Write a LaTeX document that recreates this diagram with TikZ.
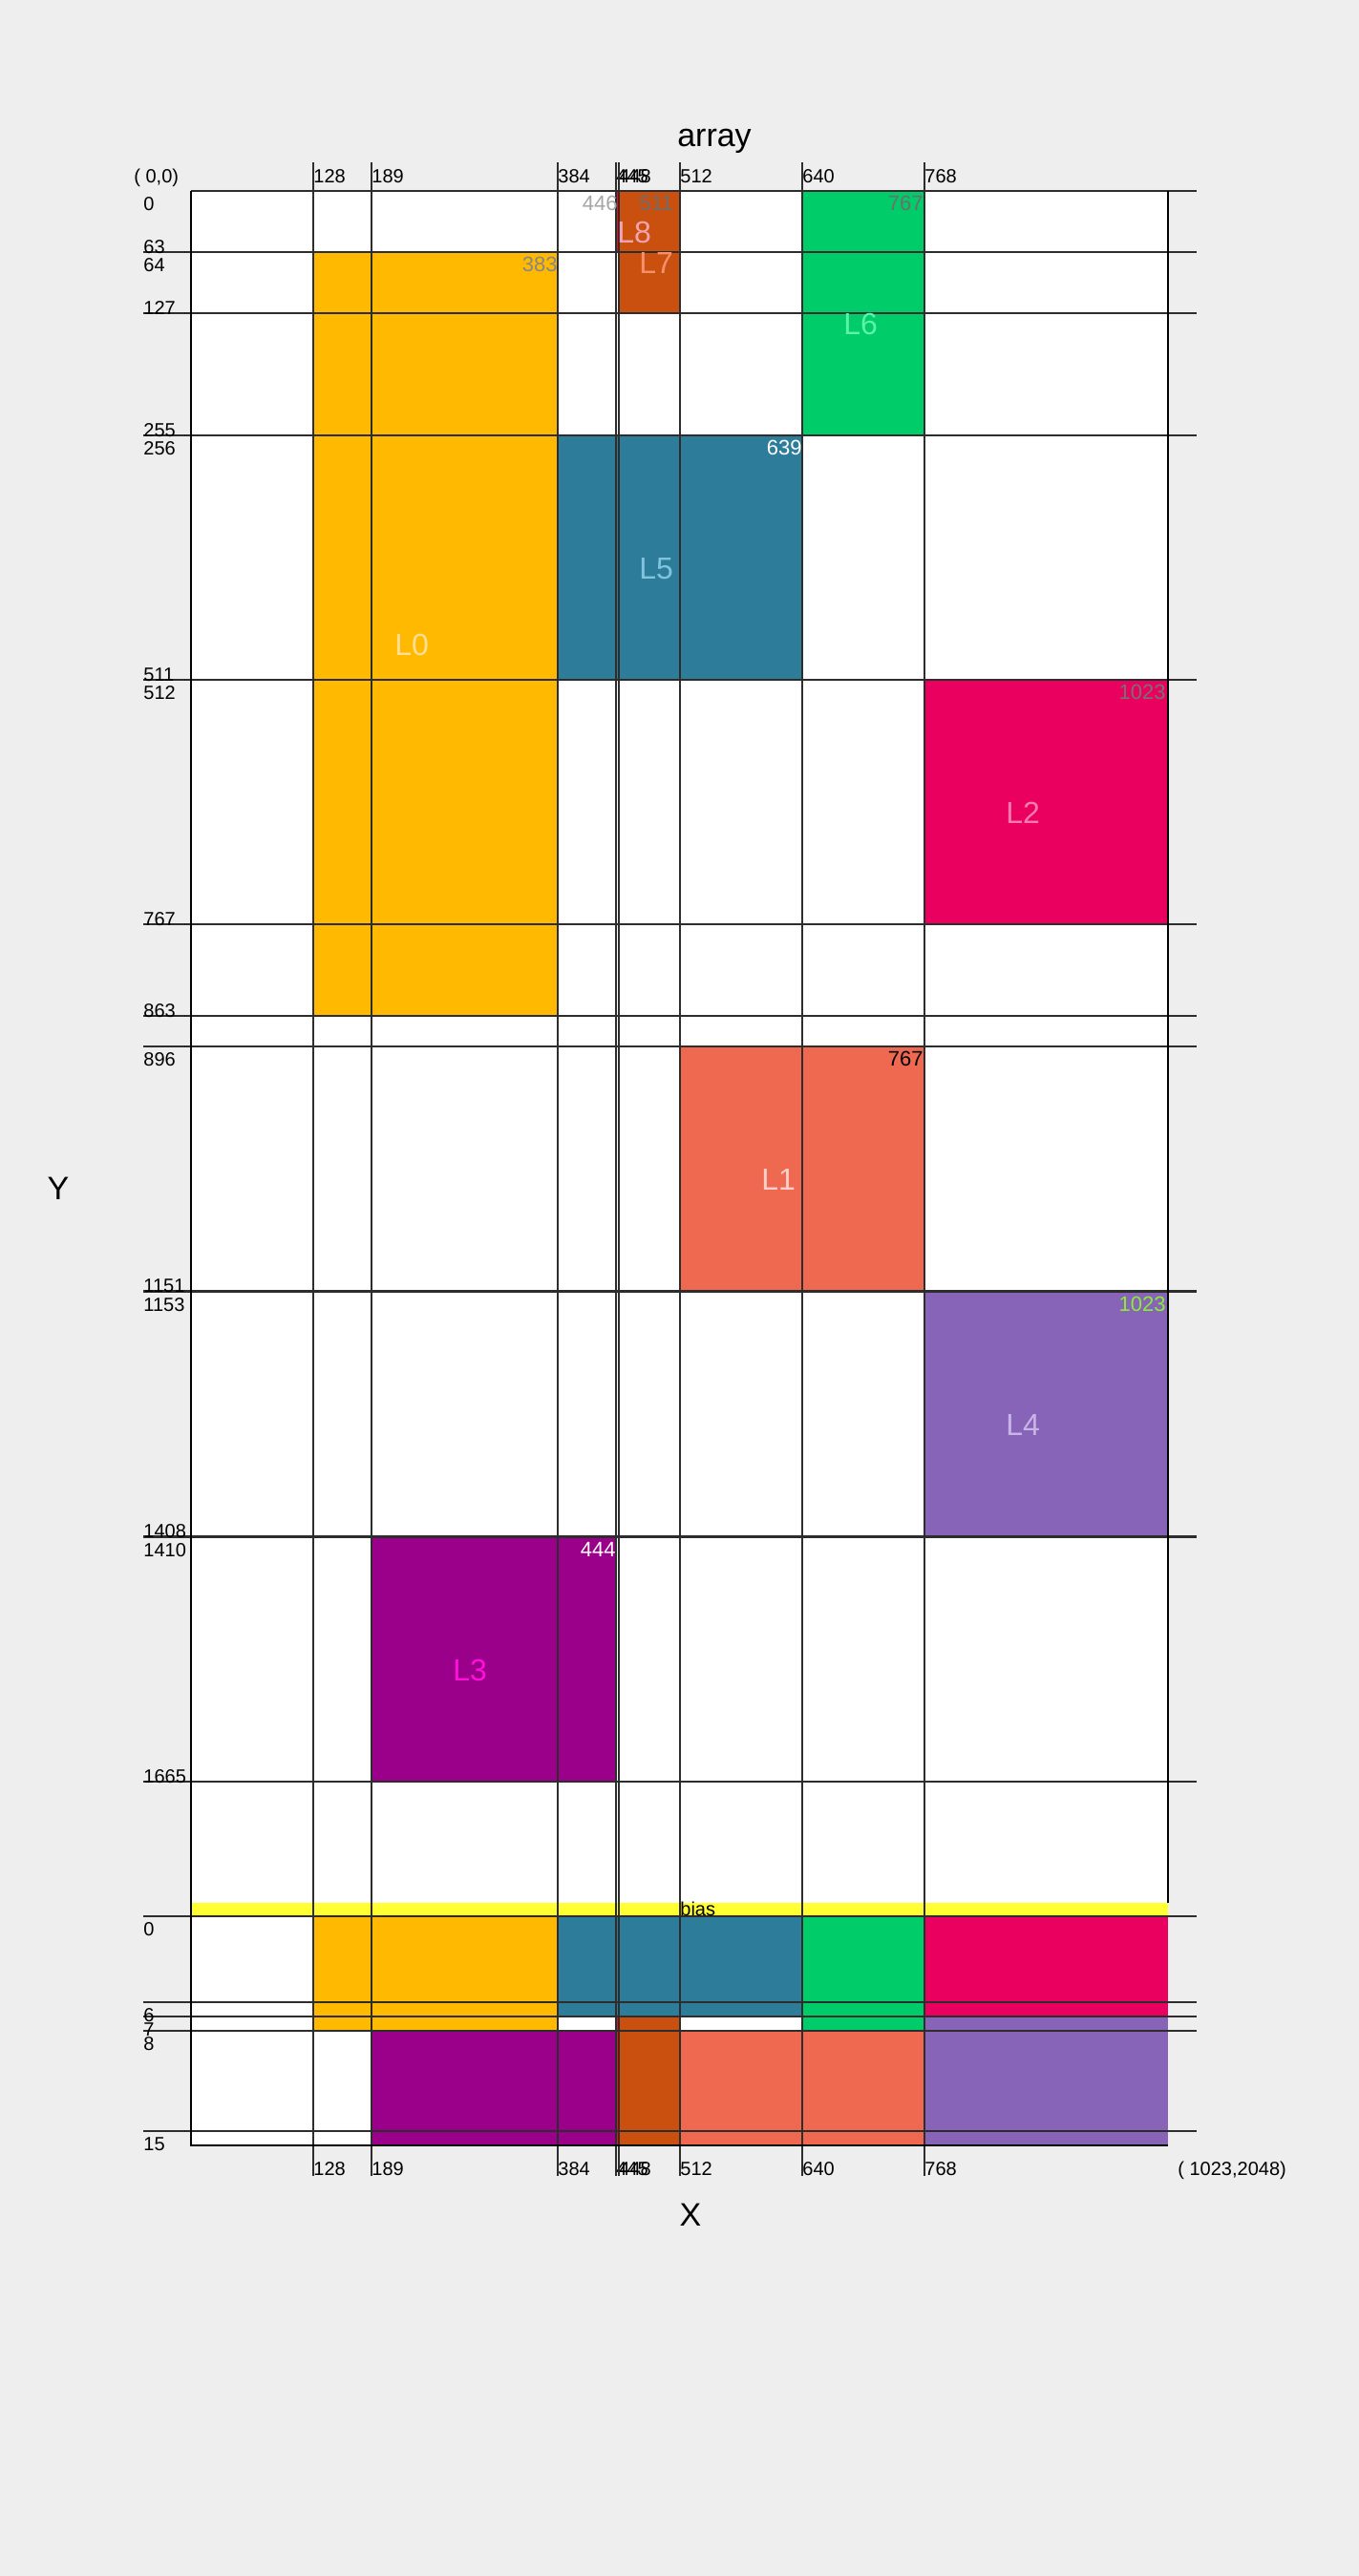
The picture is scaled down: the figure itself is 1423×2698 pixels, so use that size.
\documentclass[tikz,border=0pt]{standalone}
\usepackage{fontspec}
\setmainfont{Liberation Sans}
\definecolor{canvasgray}{RGB}{238,238,238}
\definecolor{gridline}{RGB}{45,45,45}
\definecolor{lzero}{HTML}{FFB900}
\definecolor{lone}{HTML}{EF6950}
\definecolor{ltwo}{HTML}{EA005E}
\definecolor{lthree}{HTML}{9A0089}
\definecolor{lfour}{HTML}{8764B8}
\definecolor{lfive}{HTML}{2D7D9A}
\definecolor{lsix}{HTML}{00CC6A}
\definecolor{lseven}{HTML}{CA5010}
\definecolor{leight}{HTML}{E81123}
\definecolor{biasyellow}{HTML}{FFFF33}
% label tints
\definecolor{lzerotext}{HTML}{FFDF95}
\definecolor{lonetext}{HTML}{FAD0C8}
\definecolor{ltwotext}{HTML}{F47AAE}
\definecolor{lthreetext}{HTML}{FF10D8}
\definecolor{lfourtext}{HTML}{C8B4E6}
\definecolor{lfivetext}{HTML}{7FC3DD}
\definecolor{lsixtext}{HTML}{5CF2A8}
\definecolor{lseventext}{HTML}{F4906A}
\definecolor{leighttext}{HTML}{F5A3B0}
\definecolor{limegreen}{HTML}{88EE33}
\tikzset{
  gridrule/.style={draw=gridline, line width=0.75pt},
  edgerule/.style={draw=black, line width=0.8pt},
  axislabel/.style={font=\fontsize{10}{12}\selectfont, inner sep=0pt, text=black},
  layername/.style={font=\fontsize{16}{19}\selectfont, inner sep=0pt, anchor=north west},
  cornernum/.style={font=\fontsize{11}{13}\selectfont, inner sep=0pt, anchor=north east},
  bigtitle/.style={font=\fontsize{17}{20}\selectfont, inner sep=0pt}
}
\begin{document}
\begin{tikzpicture}[x=0.5pt, y=-0.5pt]
    \useasboundingbox (0,0) rectangle (1423,2698);
    \fill[canvasgray] (0,0) rectangle (1423,2698);
    \fill[white] (200,200) rectangle (1223,2247);

    % Weight blocks (1px per column / row)
    \fill[lzero] (328,264) rectangle (584,1064);
    \fill[lfive] (584,456) rectangle (840,712);
    \fill[lsix] (840,200) rectangle (968,456);
    \fill[lseven] (648,200) rectangle (712,328);
    \fill[leight] (645,200) rectangle (648,264);
    \fill[ltwo] (968,712) rectangle (1223,968);
    \fill[lone] (712,1096) rectangle (968,1352);
    \fill[lfour] (968,1353) rectangle (1223,1609);
    \fill[lthree] (389,1610) rectangle (645,1866);

    % Bias blocks (15px per row)
    \fill[lzero] (328,2007) rectangle (584,2127);
    \fill[lfive] (584,2007) rectangle (840,2112);
    \fill[lsix] (840,2007) rectangle (968,2127);
    \fill[ltwo] (968,2007) rectangle (1223,2112);
    \fill[lfour] (968,2112) rectangle (1223,2247);
    \fill[lone] (712,2127) rectangle (968,2247);
    \fill[lthree] (389,2127) rectangle (645,2247);
    \fill[lseven] (648,2112) rectangle (712,2247);
    \fill[leight] (645,2112) rectangle (648,2247);
    \fill[biasyellow] (200,1993) rectangle (1223,2007);

    % Column rules and labels
    \foreach \c in {128,189,384,445,448,512,640,768} {
        \draw[gridrule] (200+\c,170) -- (200+\c,2279);
        \node[axislabel, anchor=base west] (top\c) at (200+\c,191) {\c};
        \node[axislabel, anchor=base west] (bot\c) at (200+\c,2278) {\c};
    }

    % Row rules
    \draw[gridrule] (200,200) -- (1253,200);
    \foreach \y in {264,328,456,712,968,1064,1096,1352,1353,1609,1610,1866,2007,2097,2112,2127,2232}
        \draw[gridrule] (150,\y) -- (1253,\y);

    % Outline
    \draw[edgerule] (200,200) -- (200,2247) -- (1223,2247);
    \draw[edgerule] (1223,200) -- (1223,1993);

    % First row of a range, under its rule
    \foreach \y/\lab in {200/0,264/64,456/256,712/512,1096/896,1353/1153,1610/1410,2007/0,2097/6,2112/7,2127/8,2232/15}
        \node[axislabel, anchor=north west] (rs\y) at (150,\y+6) {\lab};
    % Last row of a range, on its rule
    \foreach \y/\lab in {264/63,328/127,456/255,712/511,968/767,1064/863,1352/1151,1609/1408,1866/1665}
        \node[axislabel, anchor=base west] (re\y) at (150,\y+1) {\lab};

    % Block names
    \node[layername, text=lzerotext] (nameL0) at (413,664) {L0};
    \node[layername, text=lfivetext] (nameL5) at (669,584) {L5};
    \node[layername, text=lsixtext] (nameL6) at (883,328) {L6};
    \node[layername, text=lseventext] (nameL7) at (669,264) {L7};
    \node[layername, text=leighttext] (nameL8) at (646,232) {L8};
    \node[layername, text=ltwotext] (nameL2) at (1053,840) {L2};
    \node[layername, text=lonetext] (nameL1) at (797,1224) {L1};
    \node[layername, text=lfourtext] (nameL4) at (1053,1481) {L4};
    \node[layername, text=lthreetext] (nameL3) at (474,1738) {L3};

    % Last column of each block
    \node[cornernum, text=black!47] (endL0) at (584,269) {383};
    \node[cornernum, text=black!35] (endL8) at (647,205) {446};
    \node[cornernum, text=black!57] (endL7) at (705,205) {511};
    \node[cornernum, text=black!57] (endL6) at (967,205) {767};
    \node[cornernum, text=white] (endL5) at (840,461) {639};
    \node[cornernum, text=black!55] (endL2) at (1221,717) {1023};
    \node[cornernum, text=black] (endL1) at (967,1101) {767};
    \node[cornernum, text=limegreen] (endL4) at (1221,1358) {1023};
    \node[cornernum, text=white] (endL3) at (645,1615) {444};

    % Titles and corners
    \node[axislabel, anchor=base west] (biaslab) at (712,2006) {bias};
    \node[bigtitle] (title) at (748,148) {array};
    \node[bigtitle] (xname) at (723,2320) {X};
    \node[bigtitle] (yname) at (61,1245) {Y};
    \node[axislabel, anchor=base west] (origin) at (140,191) {( 0,0)};
    \node[axislabel, anchor=base west] (farcorner) at (1233,2278) {( 1023,2048)};
\end{tikzpicture}
\end{document}
